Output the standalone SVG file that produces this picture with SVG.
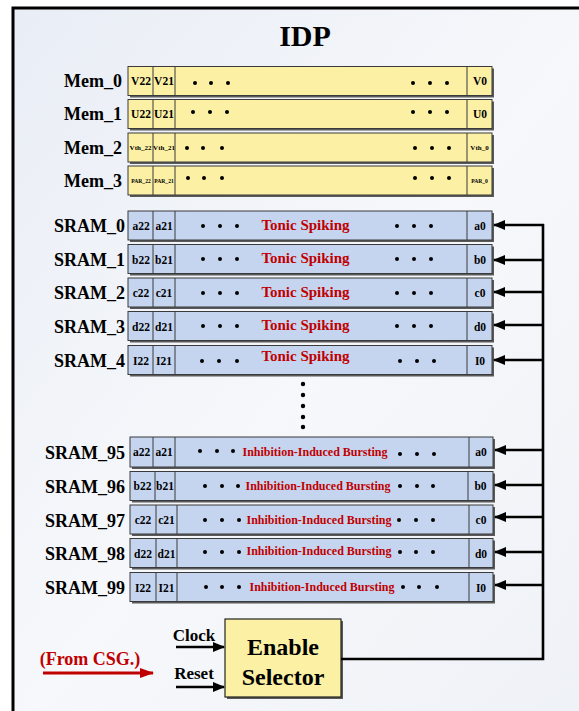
<svg xmlns="http://www.w3.org/2000/svg" width="579" height="711" viewBox="0 0 579 711">
<defs>
<linearGradient id="bg" x1="0" y1="0" x2="1" y2="1">
<stop offset="0" stop-color="#e9edf5"/>
<stop offset="0.5" stop-color="#f6f8fb"/>
<stop offset="1" stop-color="#eef1f6"/>
</linearGradient>
<marker id="ah" markerUnits="userSpaceOnUse" markerWidth="12" markerHeight="10" refX="11" refY="5" orient="auto">
<path d="M0,0 L12,5 L0,10 z" fill="#000"/>
</marker>
<marker id="ahr" markerUnits="userSpaceOnUse" markerWidth="14" markerHeight="10" refX="13" refY="5" orient="auto">
<path d="M0,0 L14,5 L0,10 z" fill="#c00000"/>
</marker>
</defs>
<style>
text{font-family:"Liberation Serif","Times New Roman",serif;font-weight:bold;fill:#000}
.lbl{font-size:18px;text-anchor:end}
.c{font-size:11.5px;text-anchor:middle}
.sm{font-size:7px;text-anchor:middle}
.xs{font-size:5.6px;text-anchor:middle}
.red{fill:#c00000;text-anchor:middle}
.ts{font-size:15px}
.ib{font-size:12px}
.sh{fill:#5a5a5a}
.mem{fill:#fcf0a4;stroke:#3a3a3a;stroke-width:1}
.sr{fill:#c5d5f0;stroke:#3a3a3a;stroke-width:1}
.dv{stroke:#3a3a3a;stroke-width:1}
.dot{fill:#000}
.con{stroke:#000;stroke-width:2.6;fill:none}
</style>
<rect x="0" y="0" width="579" height="711" fill="#fff"/>
<rect x="13" y="8" width="600" height="720" fill="url(#bg)" stroke="#000" stroke-width="3"/>
<text x="305" y="46" style="font-size:30px;text-anchor:middle">IDP</text>

<g id="mem0">
<text class="lbl" x="122" y="87">Mem_0</text>
<rect class="sh" x="130" y="68.5" width="364" height="29"/>
<rect class="mem" x="128" y="66.5" width="364" height="29"/>
<line class="dv" x1="153" y1="66.5" x2="153" y2="95.5"/><line class="dv" x1="175" y1="66.5" x2="175" y2="95.5"/><line class="dv" x1="467" y1="66.5" x2="467" y2="95.5"/>
<text class="c" x="141" y="85">V22</text><text class="c" x="164" y="85">V21</text><text class="c" x="480" y="85">V0</text>
<circle class="dot" cx="195" cy="83" r="2"/><circle class="dot" cx="211" cy="83" r="2"/><circle class="dot" cx="228" cy="83" r="2"/>
<circle class="dot" cx="413" cy="83" r="2"/><circle class="dot" cx="430" cy="83" r="2"/><circle class="dot" cx="447" cy="83" r="2"/>
</g>
<g id="mem1">
<text class="lbl" x="122" y="120">Mem_1</text>
<rect class="sh" x="130" y="101.5" width="364" height="29"/>
<rect class="mem" x="128" y="99.5" width="364" height="29"/>
<line class="dv" x1="153" y1="99.5" x2="153" y2="128.5"/><line class="dv" x1="175" y1="99.5" x2="175" y2="128.5"/><line class="dv" x1="467" y1="99.5" x2="467" y2="128.5"/>
<text class="c" x="141" y="118">U22</text><text class="c" x="164" y="118">U21</text><text class="c" x="480" y="118">U0</text>
<circle class="dot" cx="193" cy="112" r="2"/><circle class="dot" cx="210" cy="112" r="2"/><circle class="dot" cx="227" cy="112" r="2"/>
<circle class="dot" cx="413" cy="112" r="2"/><circle class="dot" cx="430" cy="112" r="2"/><circle class="dot" cx="447" cy="112" r="2"/>
</g>
<g id="mem2">
<text class="lbl" x="122" y="154">Mem_2</text>
<rect class="sh" x="130" y="135" width="364" height="29"/>
<rect class="mem" x="128" y="133" width="364" height="29"/>
<line class="dv" x1="153" y1="133" x2="153" y2="162"/><line class="dv" x1="175" y1="133" x2="175" y2="162"/><line class="dv" x1="467" y1="133" x2="467" y2="162"/>
<text class="sm" x="140.5" y="150">Vth_22</text><text class="sm" x="164" y="150">Vth_21</text><text class="sm" x="479.5" y="150">Vth_0</text>
<circle class="dot" cx="187" cy="148" r="2"/><circle class="dot" cx="203" cy="148" r="2"/><circle class="dot" cx="222" cy="148" r="2"/>
<circle class="dot" cx="415" cy="148" r="2"/><circle class="dot" cx="432" cy="148" r="2"/><circle class="dot" cx="449" cy="148" r="2"/>
</g>
<g id="mem3">
<text class="lbl" x="122" y="187">Mem_3</text>
<rect class="sh" x="130" y="168" width="364" height="29"/>
<rect class="mem" x="128" y="166" width="364" height="29"/>
<line class="dv" x1="153" y1="166" x2="153" y2="195"/><line class="dv" x1="175" y1="166" x2="175" y2="195"/><line class="dv" x1="467" y1="166" x2="467" y2="195"/>
<text class="xs" x="141" y="182.5">PAR_22</text><text class="xs" x="164" y="182.5">PAR_21</text><text class="xs" x="479.5" y="182.5">PAR_0</text>
<circle class="dot" cx="188" cy="178" r="2"/><circle class="dot" cx="204" cy="178" r="2"/><circle class="dot" cx="222" cy="178" r="2"/>
<circle class="dot" cx="415" cy="178" r="2"/><circle class="dot" cx="432" cy="178" r="2"/><circle class="dot" cx="449" cy="178" r="2"/>
</g>

<g id="sram0">
<text class="lbl" x="125" y="232">SRAM_0</text>
<rect class="sh" x="130" y="213" width="364" height="29"/>
<rect class="sr" x="128" y="211" width="364" height="29"/>
<line class="dv" x1="153" y1="211" x2="153" y2="240"/><line class="dv" x1="175" y1="211" x2="175" y2="240"/><line class="dv" x1="467" y1="211" x2="467" y2="240"/>
<text class="c" x="141" y="230">a22</text><text class="c" x="164" y="230">a21</text><text class="c" x="480" y="230">a0</text>
<circle class="dot" cx="203" cy="226" r="2"/><circle class="dot" cx="220" cy="226" r="2"/><circle class="dot" cx="237" cy="226" r="2"/>
<text class="red ts" x="305.5" y="229.5">Tonic Spiking</text>
<circle class="dot" cx="397" cy="226" r="2"/><circle class="dot" cx="414" cy="226" r="2"/><circle class="dot" cx="431" cy="226" r="2"/>
</g>
<g id="sram1">
<text class="lbl" x="125" y="265.5">SRAM_1</text>
<rect class="sh" x="130" y="246.5" width="364" height="29"/>
<rect class="sr" x="128" y="244.5" width="364" height="29"/>
<line class="dv" x1="153" y1="244.5" x2="153" y2="273.5"/><line class="dv" x1="175" y1="244.5" x2="175" y2="273.5"/><line class="dv" x1="467" y1="244.5" x2="467" y2="273.5"/>
<text class="c" x="141" y="263.5">b22</text><text class="c" x="164" y="263.5">b21</text><text class="c" x="480" y="263.5">b0</text>
<circle class="dot" cx="203" cy="259" r="2"/><circle class="dot" cx="220" cy="259" r="2"/><circle class="dot" cx="237" cy="259" r="2"/>
<text class="red ts" x="305.5" y="262.5">Tonic Spiking</text>
<circle class="dot" cx="397" cy="259" r="2"/><circle class="dot" cx="414" cy="259" r="2"/><circle class="dot" cx="431" cy="259" r="2"/>
</g>
<g id="sram2">
<text class="lbl" x="125" y="299">SRAM_2</text>
<rect class="sh" x="130" y="280" width="364" height="29"/>
<rect class="sr" x="128" y="278" width="364" height="29"/>
<line class="dv" x1="153" y1="278" x2="153" y2="307"/><line class="dv" x1="175" y1="278" x2="175" y2="307"/><line class="dv" x1="467" y1="278" x2="467" y2="307"/>
<text class="c" x="141" y="297">c22</text><text class="c" x="164" y="297">c21</text><text class="c" x="480" y="297">c0</text>
<circle class="dot" cx="203" cy="293" r="2"/><circle class="dot" cx="220" cy="293" r="2"/><circle class="dot" cx="237" cy="293" r="2"/>
<text class="red ts" x="305.5" y="297">Tonic Spiking</text>
<circle class="dot" cx="397" cy="293" r="2"/><circle class="dot" cx="414" cy="293" r="2"/><circle class="dot" cx="431" cy="293" r="2"/>
</g>
<g id="sram3">
<text class="lbl" x="125" y="332.5">SRAM_3</text>
<rect class="sh" x="130" y="313.5" width="364" height="29"/>
<rect class="sr" x="128" y="311.5" width="364" height="29"/>
<line class="dv" x1="153" y1="311.5" x2="153" y2="340.5"/><line class="dv" x1="175" y1="311.5" x2="175" y2="340.5"/><line class="dv" x1="467" y1="311.5" x2="467" y2="340.5"/>
<text class="c" x="141" y="330.5">d22</text><text class="c" x="164" y="330.5">d21</text><text class="c" x="480" y="330.5">d0</text>
<circle class="dot" cx="203" cy="326" r="2"/><circle class="dot" cx="220" cy="326" r="2"/><circle class="dot" cx="237" cy="326" r="2"/>
<text class="red ts" x="305.5" y="330">Tonic Spiking</text>
<circle class="dot" cx="397" cy="326" r="2"/><circle class="dot" cx="414" cy="326" r="2"/><circle class="dot" cx="431" cy="326" r="2"/>
</g>
<g id="sram4">
<text class="lbl" x="125" y="366.5">SRAM_4</text>
<rect class="sh" x="130" y="347.5" width="364" height="29"/>
<rect class="sr" x="128" y="345.5" width="364" height="29"/>
<line class="dv" x1="153" y1="345.5" x2="153" y2="374.5"/><line class="dv" x1="175" y1="345.5" x2="175" y2="374.5"/><line class="dv" x1="467" y1="345.5" x2="467" y2="374.5"/>
<text class="c" x="141" y="364.5">I22</text><text class="c" x="164" y="364.5">I21</text><text class="c" x="480" y="364.5">I0</text>
<circle class="dot" cx="202" cy="361" r="2"/><circle class="dot" cx="219" cy="361" r="2"/><circle class="dot" cx="237" cy="361" r="2"/>
<text class="red ts" x="305.5" y="361">Tonic Spiking</text>
<circle class="dot" cx="400" cy="361" r="2"/><circle class="dot" cx="417" cy="361" r="2"/><circle class="dot" cx="434" cy="361" r="2"/>
</g>

<g id="vdots">
<circle class="dot" cx="303" cy="384" r="2.2"/><circle class="dot" cx="303" cy="395" r="2.2"/><circle class="dot" cx="303" cy="406" r="2.2"/><circle class="dot" cx="303" cy="417" r="2.2"/><circle class="dot" cx="303" cy="427" r="2.2"/>
</g>

<g id="sram95">
<text class="lbl" x="125" y="459">SRAM_95</text>
<rect class="sh" x="132" y="439" width="363" height="30"/>
<rect class="sr" x="130" y="437" width="363" height="30"/>
<line class="dv" x1="153" y1="437" x2="153" y2="467"/><line class="dv" x1="175" y1="437" x2="175" y2="467"/><line class="dv" x1="469" y1="437" x2="469" y2="467"/>
<text class="c" x="141.5" y="456">a22</text><text class="c" x="164" y="456">a21</text><text class="c" x="481" y="456">a0</text>
<circle class="dot" cx="200" cy="451" r="2"/><circle class="dot" cx="217" cy="451" r="2"/><circle class="dot" cx="233" cy="451" r="2"/>
<text class="red ib" x="315" y="455.5">Inhibition-Induced Bursting</text>
<circle class="dot" cx="400" cy="454" r="2"/><circle class="dot" cx="417" cy="454" r="2"/><circle class="dot" cx="434" cy="454" r="2"/>
</g>
<g id="sram96">
<text class="lbl" x="125" y="493">SRAM_96</text>
<rect class="sh" x="132" y="473.5" width="363" height="29"/>
<rect class="sr" x="130" y="471.5" width="363" height="29"/>
<line class="dv" x1="155" y1="471.5" x2="155" y2="500.5"/><line class="dv" x1="175" y1="471.5" x2="175" y2="500.5"/><line class="dv" x1="468" y1="471.5" x2="468" y2="500.5"/>
<text class="c" x="142.5" y="490">b22</text><text class="c" x="165" y="490">b21</text><text class="c" x="480.5" y="490">b0</text>
<circle class="dot" cx="205" cy="486" r="2"/><circle class="dot" cx="222" cy="486" r="2"/><circle class="dot" cx="238" cy="486" r="2"/>
<text class="red ib" x="318" y="489.5">Inhibition-Induced Bursting</text>
<circle class="dot" cx="400" cy="486" r="2"/><circle class="dot" cx="417" cy="486" r="2"/><circle class="dot" cx="433" cy="486" r="2"/>
</g>
<g id="sram97">
<text class="lbl" x="125" y="527">SRAM_97</text>
<rect class="sh" x="132" y="507" width="363" height="29"/>
<rect class="sr" x="130" y="505" width="363" height="29"/>
<line class="dv" x1="156" y1="505" x2="156" y2="534"/><line class="dv" x1="177" y1="505" x2="177" y2="534"/><line class="dv" x1="469" y1="505" x2="469" y2="534"/>
<text class="c" x="143" y="524">c22</text><text class="c" x="166.5" y="524">c21</text><text class="c" x="481" y="524">c0</text>
<circle class="dot" cx="205" cy="520" r="2"/><circle class="dot" cx="222" cy="520" r="2"/><circle class="dot" cx="239" cy="520" r="2"/>
<text class="red ib" x="319" y="523.5">Inhibition-Induced Bursting</text>
<circle class="dot" cx="399" cy="520" r="2"/><circle class="dot" cx="416" cy="520" r="2"/><circle class="dot" cx="433" cy="520" r="2"/>
</g>
<g id="sram98">
<text class="lbl" x="125" y="560">SRAM_98</text>
<rect class="sh" x="132" y="540.5" width="363" height="29"/>
<rect class="sr" x="130" y="538.5" width="363" height="29"/>
<line class="dv" x1="156" y1="538.5" x2="156" y2="567.5"/><line class="dv" x1="177" y1="538.5" x2="177" y2="567.5"/><line class="dv" x1="469" y1="538.5" x2="469" y2="567.5"/>
<text class="c" x="143" y="557.5">d22</text><text class="c" x="166.5" y="557.5">d21</text><text class="c" x="481" y="557.5">d0</text>
<circle class="dot" cx="205" cy="552" r="2"/><circle class="dot" cx="222" cy="552" r="2"/><circle class="dot" cx="239" cy="552" r="2"/>
<text class="red ib" x="319" y="555">Inhibition-Induced Bursting</text>
<circle class="dot" cx="400" cy="552" r="2"/><circle class="dot" cx="416" cy="552" r="2"/><circle class="dot" cx="433" cy="552" r="2"/>
</g>
<g id="sram99">
<text class="lbl" x="125" y="594">SRAM_99</text>
<rect class="sh" x="132" y="574.5" width="363" height="29"/>
<rect class="sr" x="130" y="572.5" width="363" height="29"/>
<line class="dv" x1="156" y1="572.5" x2="156" y2="601.5"/><line class="dv" x1="177" y1="572.5" x2="177" y2="601.5"/><line class="dv" x1="469" y1="572.5" x2="469" y2="601.5"/>
<text class="c" x="143" y="591.5">I22</text><text class="c" x="166.5" y="591.5">I21</text><text class="c" x="481" y="591.5">I0</text>
<circle class="dot" cx="206" cy="587" r="2"/><circle class="dot" cx="222" cy="587" r="2"/><circle class="dot" cx="239" cy="587" r="2"/>
<text class="red ib" x="322" y="591">Inhibition-Induced Bursting</text>
<circle class="dot" cx="403" cy="587" r="2"/><circle class="dot" cx="419" cy="587" r="2"/><circle class="dot" cx="437" cy="587" r="2"/>
</g>

<g id="selector">
<rect class="sh" x="227" y="621" width="116" height="78"/>
<rect x="225" y="619" width="116" height="78" fill="#fcf0a4" stroke="#222" stroke-width="1.2"/>
<text x="283" y="655" style="font-size:24px;text-anchor:middle">Enable</text>
<text x="283" y="685" style="font-size:24px;text-anchor:middle">Selector</text>
</g>
<g id="inputs">
<text x="194" y="641" style="font-size:17px;text-anchor:middle">Clock</text>
<text x="194" y="679" style="font-size:17px;text-anchor:middle">Reset</text>
<text x="90" y="665" class="red" style="font-size:18px">(From CSG.)</text>
</g>

<g id="connectors">
<line class="con" x1="176" y1="647" x2="224" y2="647" marker-end="url(#ah)"/>
<line class="con" x1="176" y1="687" x2="224" y2="687" marker-end="url(#ah)"/>
<line x1="43" y1="673" x2="153" y2="673" stroke="#c00000" stroke-width="3" marker-end="url(#ahr)"/>
<polyline class="con" points="341,659 543,659 543,224"/>
<line class="con" x1="544" y1="225" x2="494" y2="225" marker-end="url(#ah)"/>
<line class="con" x1="544" y1="260" x2="494" y2="260" marker-end="url(#ah)"/>
<line class="con" x1="544" y1="292" x2="494" y2="292" marker-end="url(#ah)"/>
<line class="con" x1="544" y1="325" x2="494" y2="325" marker-end="url(#ah)"/>
<line class="con" x1="544" y1="360" x2="494" y2="360" marker-end="url(#ah)"/>
<line class="con" x1="544" y1="450" x2="495" y2="450" marker-end="url(#ah)"/>
<line class="con" x1="544" y1="485" x2="495" y2="485" marker-end="url(#ah)"/>
<line class="con" x1="544" y1="517" x2="495" y2="517" marker-end="url(#ah)"/>
<line class="con" x1="544" y1="552" x2="495" y2="552" marker-end="url(#ah)"/>
<line class="con" x1="544" y1="585" x2="495" y2="585" marker-end="url(#ah)"/>
</g>
</svg>
